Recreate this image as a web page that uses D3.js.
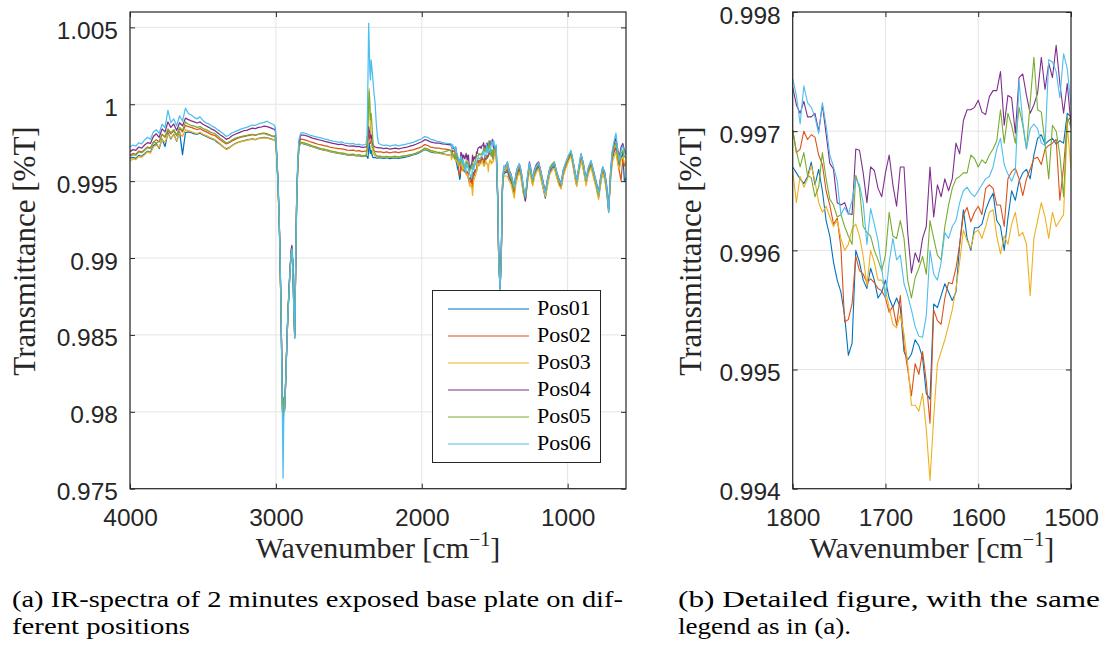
<!DOCTYPE html>
<html>
<head>
<meta charset="utf-8">
<script src="https://cdn.jsdelivr.net/npm/d3@7"></script>
<style>
  body { margin: 0; background: #fff; }
  svg { display: block; }
</style>
</head>
<body>
<script>

var seriesNames = ["Pos01", "Pos02", "Pos03", "Pos04", "Pos05", "Pos06"];
var seriesColors = ["#0072BD", "#D95319", "#EDB120", "#7E2F8E", "#77AC30", "#4DBEEE"];

// wavenumbers 4000 -> 1820 (overview, above the detail window)
var wnHigh = [
    4000,3980,3960,3940,3920,3900,3880,3860,3840,3820,3800,3780,3760,3740,3720,3700,3680,3660,3640,3620,
    3600,3580,3560,3540,3520,3500,3480,3460,3440,3420,3400,3380,3360,3340,3320,3300,3280,3260,3240,3220,
    3200,3180,3160,3140,3120,3100,3080,3060,3040,3020,
    3010,3003,2995,2985,2975,2965,2955,2951,2946,2941,2936,2928,2918,2905,2895,2890,2884,2878,2871,2865,
    2858,2850,2842,2830,
    2810,2790,2770,2750,2730,2710,2690,2670,2650,2630,2610,2590,2570,2550,2530,2510,2490,2470,2450,2430,
    2410,2390,
    2382,2375,2369,2364,2360,2356,2352,2347,2341,2335,2328,2320,2312,2304,2296,
    2280,2260,2240,2220,2200,2180,2160,2140,2120,2100,2080,2060,2040,2020,2000,1980,1960,1940,1920,1900,
    1880,1860,1840,1820
];

// wavenumbers 1800 -> 1500 (detail window, figure b)
var wnDetail = [
    1800,1796,1792,1788,1784,1780,1776,1772,1768,1764,
    1760,1756,1752,1748,1744,1740,1736,1732,1728,1724,
    1720,1716,1712,1708,1704,1700,1696,1692,1688,1684,
    1680,1676,1672,1668,1664,1660,1656,1652,1648,1644,
    1640,1636,1632,1628,1624,1620,1616,1612,1608,1604,
    1600,1596,1592,1588,1584,1580,1576,1572,1568,1564,
    1560,1556,1552,1548,1544,1540,1536,1532,1528,1524,
    1520,1516,1512,1508,1504,1500
];

// wavenumbers 1490 -> 600 (fingerprint part)
var wnLow = [
    1490,1480,1472,1463,1455,1447,1438,1425,1413,1400,
    1388,1376,1366,1355,1343,1331,1318,1304,1290,1276,
    1262,1250,1240,1228,1214,1199,1185,1170,1153,1138,
    1122,1106,1091,1076,1060,1045,1030,1014,998,977,
    962,950,938,924,908,892,874,858,840,822,
    806,788,774,760,746,732,719,706,694,682,
    669,656,645,634,622,611,600
];

// ---- Pos01 ----
var pos01High = [
    0.99650,0.99655,0.99648,0.99668,0.99662,0.99678,0.99695,0.99688,0.99730,0.99745,
    0.99712,0.99775,0.99725,0.99815,0.99775,0.99805,0.99760,0.99820,0.99672,0.99815,
    0.99820,0.99815,0.99808,0.99805,0.99812,0.99800,0.99792,0.99782,0.99775,0.99768,
    0.99752,0.99738,0.99722,0.99710,0.99718,0.99732,0.99745,0.99752,0.99758,0.99762,
    0.99768,0.99772,0.99775,0.99770,0.99778,0.99782,0.99785,0.99782,0.99776,0.99770,
    0.99772,0.99762,0.99672,0.99472,0.99152,0.98672,0.98015,0.97935,0.98070,0.98005,
    0.98105,0.98342,0.98622,0.98882,0.99035,0.99050,0.98955,0.98700,0.98480,0.98890,
    0.99340,0.99590,0.99722,0.99748,
    0.99742,0.99738,0.99730,0.99725,0.99718,0.99712,0.99706,0.99700,0.99698,0.99692,
    0.99688,0.99684,0.99680,0.99678,0.99674,0.99670,0.99668,0.99670,0.99664,0.99666,
    0.99660,0.99662,
    0.99662,0.99660,0.99648,0.99700,0.99750,0.99720,0.99680,0.99700,0.99670,0.99655,
    0.99652,0.99655,0.99652,0.99650,0.99652,
    0.99652,0.99648,0.99652,0.99646,0.99650,0.99652,0.99648,0.99652,0.99655,0.99660,
    0.99665,0.99670,0.99676,0.99684,0.99694,0.99705,0.99700,0.99690,0.99686,0.99684,
    0.99688,0.99680,0.99675,0.99670
];
var pos01Detail = [
    0.99670,0.99665,0.99660,0.99656,0.99662,0.99674,0.99655,0.99668,0.99650,0.99625,
    0.99612,0.99590,0.99575,0.99565,0.99545,0.99512,0.99522,0.99600,0.99590,0.99575,
    0.99568,0.99585,0.99575,0.99560,0.99565,0.99575,0.99560,0.99552,0.99560,0.99552,
    0.99515,0.99508,0.99513,0.99525,0.99520,0.99510,0.99480,0.99475,0.99555,0.99552,
    0.99562,0.99572,0.99565,0.99558,0.99565,0.99605,0.99634,0.99610,0.99600,0.99619,
    0.99619,0.99622,0.99634,0.99642,0.99648,0.99625,0.99620,0.99600,0.99627,0.99650,
    0.99642,0.99658,0.99665,0.99668,0.99660,0.99680,0.99694,0.99697,0.99689,0.99692,
    0.99694,0.99689,0.99692,0.99690,0.99715,0.99712
];
var pos01Low = [
    0.99712,0.99400,0.98965,0.98800,0.99005,0.99440,0.99550,0.99555,0.99565,0.99520,
    0.99500,0.99455,0.99420,0.99500,0.99545,0.99575,0.99525,0.99430,0.99370,0.99495,
    0.99585,0.99530,0.99480,0.99540,0.99575,0.99595,0.99535,0.99465,0.99390,0.99480,
    0.99560,0.99585,0.99595,0.99535,0.99485,0.99455,0.99545,0.99590,0.99630,0.99675,
    0.99600,0.99530,0.99470,0.99560,0.99650,0.99580,0.99485,0.99560,0.99605,0.99535,
    0.99475,0.99395,0.99490,0.99565,0.99525,0.99430,0.99300,0.99520,0.99640,0.99690,
    0.99720,0.99640,0.99600,0.99650,0.99680,0.99500,0.99520
];

// ---- Pos02 ----
var pos02High = [
    0.99668,0.99680,0.99675,0.99695,0.99690,0.99705,0.99722,0.99715,0.99752,0.99770,
    0.99755,0.99805,0.99785,0.99830,0.99808,0.99828,0.99795,0.99842,0.99820,0.99862,
    0.99855,0.99850,0.99842,0.99836,0.99842,0.99830,0.99822,0.99812,0.99802,0.99798,
    0.99782,0.99768,0.99755,0.99742,0.99750,0.99762,0.99772,0.99780,0.99786,0.99790,
    0.99795,0.99798,0.99802,0.99798,0.99805,0.99810,0.99812,0.99808,0.99800,0.99792,
    0.99795,0.99785,0.99680,0.99480,0.99160,0.98680,0.98030,0.97940,0.98075,0.98010,
    0.98110,0.98350,0.98630,0.98890,0.99045,0.99065,0.98965,0.98710,0.98490,0.98900,
    0.99350,0.99600,0.99735,0.99775,
    0.99770,0.99765,0.99758,0.99752,0.99746,0.99740,0.99736,0.99731,0.99728,0.99722,
    0.99718,0.99714,0.99712,0.99710,0.99706,0.99702,0.99700,0.99702,0.99696,0.99698,
    0.99692,0.99695,
    0.99695,0.99705,0.99760,0.99810,0.99800,0.99770,0.99745,0.99760,0.99730,0.99705,
    0.99698,0.99694,0.99692,0.99690,0.99690,
    0.99690,0.99686,0.99690,0.99684,0.99688,0.99690,0.99686,0.99690,0.99692,0.99696,
    0.99700,0.99704,0.99710,0.99716,0.99724,0.99738,0.99732,0.99722,0.99718,0.99715,
    0.99714,0.99710,0.99708,0.99705
];
var pos02Detail = [
    0.99701,0.99682,0.99685,0.99700,0.99693,0.99697,0.99695,0.99680,0.99672,0.99650,
    0.99638,0.99622,0.99627,0.99602,0.99540,0.99542,0.99555,0.99595,0.99583,0.99580,
    0.99573,0.99576,0.99573,0.99568,0.99566,0.99560,0.99548,0.99553,0.99537,0.99562,
    0.99520,0.99500,0.99478,0.99505,0.99496,0.99515,0.99490,0.99455,0.99550,0.99541,
    0.99538,0.99560,0.99573,0.99572,0.99585,0.99605,0.99630,0.99636,0.99624,0.99632,
    0.99637,0.99630,0.99652,0.99655,0.99652,0.99638,0.99638,0.99620,0.99660,0.99666,
    0.99669,0.99660,0.99646,0.99660,0.99668,0.99677,0.99678,0.99672,0.99685,0.99688,
    0.99690,0.99693,0.99642,0.99670,0.99708,0.99712
];
var pos02Low = [
    0.99712,0.99400,0.98970,0.98800,0.99010,0.99450,0.99560,0.99565,0.99580,0.99535,
    0.99515,0.99470,0.99430,0.99515,0.99560,0.99590,0.99540,0.99445,0.99385,0.99505,
    0.99595,0.99540,0.99490,0.99550,0.99585,0.99605,0.99545,0.99480,0.99410,0.99495,
    0.99570,0.99595,0.99605,0.99545,0.99495,0.99465,0.99555,0.99600,0.99640,0.99685,
    0.99610,0.99545,0.99480,0.99570,0.99660,0.99595,0.99495,0.99570,0.99615,0.99545,
    0.99485,0.99400,0.99500,0.99575,0.99535,0.99440,0.99320,0.99530,0.99650,0.99700,
    0.99720,0.99620,0.99560,0.99505,0.99640,0.99600,0.99620
];

// ---- Pos03 ----
var pos03High = [
    0.99630,0.99645,0.99640,0.99660,0.99655,0.99672,0.99690,0.99682,0.99722,0.99735,
    0.99720,0.99770,0.99752,0.99805,0.99780,0.99800,0.99765,0.99812,0.99790,0.99835,
    0.99828,0.99822,0.99815,0.99810,0.99818,0.99805,0.99798,0.99788,0.99780,0.99772,
    0.99758,0.99742,0.99725,0.99705,0.99715,0.99730,0.99742,0.99750,0.99756,0.99760,
    0.99765,0.99770,0.99772,0.99770,0.99776,0.99780,0.99782,0.99780,0.99774,0.99768,
    0.99770,0.99760,0.99670,0.99470,0.99150,0.98670,0.98010,0.97930,0.98080,0.98000,
    0.98100,0.98340,0.98620,0.98880,0.99035,0.99055,0.98955,0.98700,0.98485,0.98890,
    0.99340,0.99590,0.99720,0.99750,
    0.99745,0.99740,0.99732,0.99726,0.99720,0.99714,0.99708,0.99702,0.99700,0.99694,
    0.99690,0.99686,0.99682,0.99680,0.99676,0.99672,0.99670,0.99672,0.99666,0.99668,
    0.99662,0.99665,
    0.99665,0.99700,0.99860,1.00030,1.00100,0.99980,0.99850,0.99780,0.99720,0.99690,
    0.99675,0.99665,0.99662,0.99660,0.99660,
    0.99660,0.99656,0.99660,0.99654,0.99658,0.99660,0.99656,0.99660,0.99662,0.99665,
    0.99670,0.99674,0.99680,0.99688,0.99698,0.99710,0.99705,0.99695,0.99690,0.99686,
    0.99680,0.99676,0.99672,0.99670
];
var pos03Detail = [
    0.99667,0.99640,0.99662,0.99653,0.99660,0.99671,0.99658,0.99640,0.99632,0.99637,
    0.99628,0.99620,0.99625,0.99610,0.99600,0.99605,0.99618,0.99622,0.99612,0.99595,
    0.99570,0.99600,0.99590,0.99575,0.99575,0.99567,0.99552,0.99538,0.99535,0.99546,
    0.99530,0.99505,0.99470,0.99470,0.99465,0.99480,0.99450,0.99407,0.99460,0.99505,
    0.99515,0.99525,0.99537,0.99550,0.99568,0.99590,0.99617,0.99608,0.99602,0.99615,
    0.99617,0.99610,0.99620,0.99632,0.99634,0.99612,0.99597,0.99612,0.99605,0.99622,
    0.99632,0.99612,0.99615,0.99605,0.99562,0.99610,0.99625,0.99640,0.99628,0.99610,
    0.99632,0.99620,0.99625,0.99630,0.99705,0.99668
];
var pos03Low = [
    0.99668,0.99380,0.98960,0.98805,0.99000,0.99430,0.99530,0.99535,0.99530,0.99500,
    0.99480,0.99430,0.99390,0.99480,0.99530,0.99560,0.99510,0.99420,0.99375,0.99480,
    0.99570,0.99515,0.99470,0.99525,0.99560,0.99580,0.99520,0.99460,0.99400,0.99470,
    0.99545,0.99570,0.99585,0.99525,0.99475,0.99450,0.99530,0.99580,0.99620,0.99665,
    0.99590,0.99520,0.99465,0.99545,0.99635,0.99570,0.99470,0.99545,0.99590,0.99520,
    0.99460,0.99380,0.99475,0.99550,0.99510,0.99420,0.99310,0.99500,0.99620,0.99660,
    0.99690,0.99610,0.99580,0.99640,0.99660,0.99620,0.99600
];

// ---- Pos04 ----
var pos04High = [
    0.99692,0.99705,0.99700,0.99722,0.99715,0.99735,0.99750,0.99745,0.99790,0.99808,
    0.99785,0.99840,0.99820,0.99885,0.99850,0.99872,0.99830,0.99880,0.99860,0.99910,
    0.99900,0.99892,0.99885,0.99878,0.99885,0.99870,0.99860,0.99850,0.99838,0.99830,
    0.99815,0.99800,0.99788,0.99772,0.99780,0.99795,0.99805,0.99812,0.99820,0.99828,
    0.99830,0.99838,0.99845,0.99842,0.99850,0.99852,0.99858,0.99855,0.99848,0.99840,
    0.99838,0.99825,0.99690,0.99490,0.99170,0.98690,0.98050,0.97960,0.98085,0.98020,
    0.98120,0.98360,0.98640,0.98900,0.99060,0.99082,0.98975,0.98720,0.98500,0.98910,
    0.99360,0.99615,0.99755,0.99800,
    0.99800,0.99795,0.99788,0.99780,0.99775,0.99770,0.99766,0.99760,0.99755,0.99750,
    0.99746,0.99742,0.99738,0.99740,0.99734,0.99730,0.99728,0.99730,0.99724,0.99726,
    0.99720,0.99722,
    0.99722,0.99730,0.99790,0.99855,0.99830,0.99810,0.99780,0.99800,0.99760,0.99735,
    0.99728,0.99722,0.99720,0.99718,0.99716,
    0.99716,0.99712,0.99714,0.99708,0.99712,0.99715,0.99710,0.99714,0.99718,0.99722,
    0.99728,0.99733,0.99740,0.99748,0.99756,0.99770,0.99765,0.99755,0.99750,0.99748,
    0.99747,0.99742,0.99740,0.99738
];
var pos04Detail = [
    0.99737,0.99722,0.99715,0.99725,0.99712,0.99712,0.99715,0.99700,0.99722,0.99698,
    0.99673,0.99668,0.99640,0.99638,0.99640,0.99631,0.99630,0.99685,0.99684,0.99665,
    0.99640,0.99670,0.99667,0.99652,0.99645,0.99665,0.99680,0.99655,0.99637,0.99670,
    0.99670,0.99615,0.99581,0.99598,0.99590,0.99610,0.99620,0.99670,0.99628,0.99655,
    0.99645,0.99660,0.99650,0.99660,0.99690,0.99681,0.99709,0.99718,0.99718,0.99720,
    0.99726,0.99716,0.99714,0.99729,0.99734,0.99734,0.99750,0.99705,0.99730,0.99728,
    0.99698,0.99745,0.99748,0.99730,0.99715,0.99722,0.99732,0.99762,0.99735,0.99757,
    0.99745,0.99772,0.99740,0.99715,0.99740,0.99705
];
var pos04Low = [
    0.99728,0.99420,0.98990,0.98810,0.99030,0.99470,0.99590,0.99600,0.99622,0.99570,
    0.99545,0.99495,0.99470,0.99545,0.99590,0.99610,0.99565,0.99460,0.99375,0.99520,
    0.99625,0.99570,0.99505,0.99575,0.99610,0.99625,0.99570,0.99505,0.99430,0.99515,
    0.99585,0.99605,0.99615,0.99565,0.99515,0.99485,0.99575,0.99615,0.99655,0.99690,
    0.99625,0.99565,0.99505,0.99585,0.99672,0.99615,0.99515,0.99585,0.99630,0.99565,
    0.99505,0.99430,0.99525,0.99590,0.99560,0.99470,0.99320,0.99555,0.99690,0.99740,
    0.99780,0.99700,0.99660,0.99720,0.99745,0.99700,0.99680
];

// ---- Pos05 ----
var pos05High = [
    0.99660,0.99672,0.99668,0.99690,0.99685,0.99700,0.99718,0.99712,0.99755,0.99748,
    0.99760,0.99800,0.99790,0.99840,0.99815,0.99835,0.99800,0.99850,0.99830,0.99885,
    0.99870,0.99862,0.99858,0.99850,0.99855,0.99842,0.99835,0.99825,0.99815,0.99810,
    0.99795,0.99778,0.99765,0.99748,0.99755,0.99768,0.99778,0.99785,0.99790,0.99795,
    0.99798,0.99802,0.99805,0.99800,0.99806,0.99808,0.99810,0.99802,0.99798,0.99790,
    0.99792,0.99780,0.99675,0.99475,0.99155,0.98675,0.98020,0.97950,0.98095,0.98015,
    0.98115,0.98345,0.98625,0.98885,0.99040,0.99060,0.98960,0.98705,0.98488,0.98895,
    0.99345,0.99595,0.99725,0.99752,
    0.99750,0.99744,0.99738,0.99730,0.99725,0.99718,0.99712,0.99708,0.99704,0.99698,
    0.99694,0.99690,0.99686,0.99684,0.99680,0.99676,0.99674,0.99676,0.99670,0.99672,
    0.99666,0.99668,
    0.99668,0.99700,0.99850,1.00000,1.00082,0.99990,0.99900,0.99940,0.99860,0.99760,
    0.99700,0.99680,0.99668,0.99665,0.99663,
    0.99662,0.99658,0.99662,0.99656,0.99660,0.99662,0.99658,0.99662,0.99665,0.99668,
    0.99672,0.99676,0.99682,0.99690,0.99700,0.99715,0.99710,0.99700,0.99695,0.99690,
    0.99682,0.99688,0.99692,0.99698
];
var pos05Detail = [
    0.99701,0.99683,0.99670,0.99682,0.99663,0.99661,0.99645,0.99653,0.99682,0.99660,
    0.99643,0.99638,0.99628,0.99630,0.99620,0.99612,0.99605,0.99663,0.99652,0.99620,
    0.99615,0.99612,0.99600,0.99592,0.99583,0.99596,0.99632,0.99612,0.99610,0.99625,
    0.99610,0.99575,0.99560,0.99577,0.99585,0.99595,0.99580,0.99625,0.99610,0.99596,
    0.99592,0.99620,0.99638,0.99652,0.99660,0.99662,0.99665,0.99665,0.99680,0.99677,
    0.99670,0.99676,0.99673,0.99680,0.99685,0.99692,0.99718,0.99690,0.99715,0.99705,
    0.99690,0.99720,0.99705,0.99685,0.99724,0.99762,0.99718,0.99716,0.99690,0.99660,
    0.99705,0.99700,0.99680,0.99645,0.99712,0.99703
];
var pos05Low = [
    0.99725,0.99410,0.98975,0.98800,0.99015,0.99460,0.99575,0.99580,0.99600,0.99550,
    0.99530,0.99480,0.99445,0.99530,0.99575,0.99600,0.99550,0.99455,0.99395,0.99515,
    0.99605,0.99550,0.99500,0.99560,0.99595,0.99615,0.99555,0.99490,0.99425,0.99505,
    0.99590,0.99612,0.99627,0.99555,0.99505,0.99475,0.99565,0.99610,0.99650,0.99695,
    0.99620,0.99550,0.99490,0.99580,0.99675,0.99605,0.99505,0.99580,0.99625,0.99550,
    0.99490,0.99410,0.99510,0.99585,0.99545,0.99450,0.99330,0.99540,0.99670,0.99720,
    0.99750,0.99660,0.99620,0.99680,0.99700,0.99660,0.99650
];

// ---- Pos06 ----
var pos06High = [
    0.99722,0.99735,0.99728,0.99750,0.99742,0.99768,0.99785,0.99772,0.99820,0.99835,
    0.99810,0.99870,0.99848,0.99960,0.99880,0.99905,0.99860,0.99925,0.99890,0.99975,
    0.99940,0.99930,0.99915,0.99905,0.99918,0.99895,0.99880,0.99872,0.99858,0.99850,
    0.99835,0.99822,0.99808,0.99790,0.99800,0.99815,0.99822,0.99830,0.99838,0.99845,
    0.99850,0.99858,0.99865,0.99862,0.99872,0.99878,0.99882,0.99890,0.99878,0.99870,
    0.99862,0.99845,0.99700,0.99500,0.99180,0.98700,0.97950,0.97568,0.97950,0.98050,
    0.98100,0.98350,0.98620,0.98880,0.99030,0.99060,0.98960,0.98700,0.98479,0.98900,
    0.99370,0.99630,0.99770,0.99812,
    0.99815,0.99808,0.99800,0.99795,0.99790,0.99785,0.99782,0.99775,0.99772,0.99765,
    0.99760,0.99758,0.99752,0.99755,0.99748,0.99745,0.99742,0.99745,0.99738,0.99740,
    0.99735,0.99738,
    0.99740,0.99800,1.00150,1.00526,1.00380,1.00220,1.00158,1.00288,1.00230,1.00160,
    1.00080,1.00008,0.99880,0.99790,0.99745,
    0.99738,0.99732,0.99735,0.99728,0.99732,0.99736,0.99730,0.99734,0.99738,0.99742,
    0.99748,0.99752,0.99760,0.99768,0.99776,0.99790,0.99785,0.99772,0.99768,0.99760,
    0.99757,0.99752,0.99748,0.99745
];
var pos06Detail = [
    0.99744,0.99730,0.99706,0.99738,0.99724,0.99720,0.99712,0.99698,0.99724,0.99705,
    0.99680,0.99670,0.99658,0.99630,0.99636,0.99630,0.99642,0.99660,0.99655,0.99640,
    0.99605,0.99635,0.99622,0.99608,0.99585,0.99560,0.99590,0.99610,0.99592,0.99596,
    0.99572,0.99562,0.99550,0.99536,0.99528,0.99527,0.99545,0.99600,0.99580,0.99575,
    0.99590,0.99615,0.99610,0.99620,0.99625,0.99640,0.99650,0.99653,0.99648,0.99645,
    0.99650,0.99655,0.99660,0.99662,0.99670,0.99685,0.99694,0.99672,0.99664,0.99658,
    0.99666,0.99742,0.99708,0.99685,0.99702,0.99706,0.99702,0.99690,0.99688,0.99760,
    0.99758,0.99750,0.99728,0.99765,0.99752,0.99722
];
var pos06Low = [
    0.99735,0.99430,0.98980,0.98795,0.99020,0.99480,0.99600,0.99590,0.99627,0.99560,
    0.99540,0.99500,0.99462,0.99540,0.99585,0.99615,0.99560,0.99470,0.99400,0.99530,
    0.99618,0.99560,0.99510,0.99570,0.99600,0.99620,0.99565,0.99500,0.99420,0.99510,
    0.99580,0.99600,0.99620,0.99560,0.99510,0.99480,0.99570,0.99620,0.99660,0.99700,
    0.99630,0.99560,0.99500,0.99590,0.99680,0.99610,0.99510,0.99590,0.99635,0.99560,
    0.99500,0.99420,0.99520,0.99595,0.99555,0.99460,0.99295,0.99560,0.99700,0.99760,
    0.99812,0.99690,0.99640,0.99700,0.99730,0.99690,0.99670
];

// ticks
var xTicksA = [4000, 3000, 2000, 1000];
var xTickLabelsA = ["4000", "3000", "2000", "1000"];
var yTicksA = [0.975, 0.98, 0.985, 0.99, 0.995, 1, 1.005];
var yTickLabelsA = ["0.975", "0.98", "0.985", "0.99", "0.995", "1", "1.005"];
var xTicksB = [1800, 1700, 1600, 1500];
var xTickLabelsB = ["1800", "1700", "1600", "1500"];
var yTicksB = [0.994, 0.995, 0.996, 0.997, 0.998];
var yTickLabelsB = ["0.994", "0.995", "0.996", "0.997", "0.998"];

var highData = [pos01High, pos02High, pos03High, pos04High, pos05High, pos06High];
var detailData = [pos01Detail, pos02Detail, pos03Detail, pos04Detail, pos05Detail, pos06Detail];
var lowData = [pos01Low, pos02Low, pos03Low, pos04Low, pos05Low, pos06Low];

function zipSeries(wns, vals) {
    var out = [];
    for (var i = 0; i < wns.length && i < vals.length; i++) {
        out.push({ wn: wns[i], t: vals[i] });
    }
    return out;
}

var fullSeries = seriesNames.map(function(name, i) {
    return zipSeries(wnHigh, highData[i]).concat(zipSeries(wnDetail, detailData[i]), zipSeries(wnLow, lowData[i]));
});
var detailSeries = seriesNames.map(function(name, i) {
    return zipSeries(wnDetail, detailData[i]);
});

var W = 1105, H = 648;
var axisColor = "#262626";
var gridColor = "#e4e4e4";
var tickFont = "'Liberation Sans', Arial, Helvetica, sans-serif";
var serifFont = "'Liberation Serif', 'Times New Roman', serif";

var svg = d3.select("body").append("svg")
    .attr("width", W)
    .attr("height", H);

function drawPanel(p) {
    var x = d3.scaleLinear().domain(p.xDomain).range([p.left, p.right]);
    var y = d3.scaleLinear().domain(p.yDomain).range([p.bottom, p.top]);
    var w = p.right - p.left, h = p.bottom - p.top;

    var clipId = "clip-" + p.id;
    svg.append("clipPath").attr("id", clipId)
        .append("rect")
        .attr("x", p.left).attr("y", p.top)
        .attr("width", w).attr("height", h);

    // grid
    var grid = svg.append("g").attr("class", "grid");
    grid.selectAll(".vgrid").data(p.xTicks).enter().append("line")
        .attr("x1", function(d) { return x(d); })
        .attr("x2", function(d) { return x(d); })
        .attr("y1", p.top).attr("y2", p.bottom)
        .attr("stroke", gridColor).attr("stroke-width", 1);
    grid.selectAll(".hgrid").data(p.yTicks).enter().append("line")
        .attr("y1", function(d) { return y(d); })
        .attr("y2", function(d) { return y(d); })
        .attr("x1", p.left).attr("x2", p.right)
        .attr("stroke", gridColor).attr("stroke-width", 1);

    // spectra, Pos01 first so Pos06 ends on top
    var line = d3.line()
        .x(function(d) { return x(d.wn); })
        .y(function(d) { return y(d.t); });

    svg.append("g").attr("clip-path", "url(#" + clipId + ")")
        .selectAll("path").data(p.series).enter().append("path")
        .attr("d", line)
        .attr("fill", "none")
        .attr("stroke", function(d, i) { return seriesColors[i]; })
        .attr("stroke-width", p.lineWidth)
        .attr("stroke-linejoin", "round");

    // axes with ticks pointing inwards
    var xAxis = svg.append("g")
        .attr("transform", "translate(0," + p.bottom + ")")
        .call(d3.axisBottom(x).tickValues(p.xTicks).tickSizeInner(-5).tickSizeOuter(0).tickPadding(20)
            .tickFormat(function(d, i) { return p.xLabels[i]; }));
    var yAxis = svg.append("g")
        .attr("transform", "translate(" + p.left + ",0)")
        .call(d3.axisLeft(y).tickValues(p.yTicks).tickSizeInner(-5).tickSizeOuter(0).tickPadding(12)
            .tickFormat(function(d, i) { return p.yLabels[i]; }));
    var xTop = svg.append("g")
        .attr("transform", "translate(0," + p.top + ")")
        .call(d3.axisTop(x).tickValues(p.xTicks).tickSizeInner(-5).tickSizeOuter(0).tickFormat(""));
    var yRight = svg.append("g")
        .attr("transform", "translate(" + p.right + ",0)")
        .call(d3.axisRight(y).tickValues(p.yTicks).tickSizeInner(-5).tickSizeOuter(0).tickFormat(""));

    [xAxis, yAxis, xTop, yRight].forEach(function(g) {
        g.select(".domain").remove();
        g.selectAll(".tick line").attr("stroke", axisColor);
        g.selectAll(".tick text")
            .attr("fill", axisColor)
            .attr("font-family", tickFont)
            .attr("font-size", 24.5);
    });
    // MATLAB puts the y labels a touch below the tick
    yAxis.selectAll(".tick text").attr("dy", "0.45em");

    svg.append("rect")
        .attr("x", p.left).attr("y", p.top)
        .attr("width", w).attr("height", h)
        .attr("fill", "none")
        .attr("stroke", axisColor)
        .attr("stroke-width", 1.2);

    // axis titles
    var xl = svg.append("text")
        .attr("x", (p.left + p.right) / 2)
        .attr("y", 558)
        .attr("text-anchor", "middle")
        .attr("font-family", serifFont)
        .attr("font-size", 30)
        .attr("fill", axisColor);
    xl.append("tspan").text("Wavenumber [cm");
    xl.append("tspan").attr("dy", -12).attr("font-size", 20).text("\u22121");
    xl.append("tspan").attr("dy", 12).text("]");

    svg.append("text")
        .attr("transform", "translate(" + p.yLabelX + ",251) rotate(-90)")
        .attr("text-anchor", "middle")
        .attr("font-family", serifFont)
        .attr("font-size", 31)
        .attr("fill", axisColor)
        .text("Transmittance [%T]");

    return { x: x, y: y };
}

drawPanel({
    id: "a", left: 130, right: 626, top: 12, bottom: 488.7,
    xDomain: [4000, 600], yDomain: [0.975, 1.006],
    xTicks: xTicksA, xLabels: xTickLabelsA, yTicks: yTicksA, yLabels: yTickLabelsA,
    series: fullSeries, yLabelX: 35, lineWidth: 1.25
});

drawPanel({
    id: "b", left: 792.7, right: 1071, top: 12, bottom: 488.7,
    xDomain: [1800, 1500], yDomain: [0.994, 0.998],
    xTicks: xTicksB, xLabels: xTickLabelsB, yTicks: yTicksB, yLabels: yTickLabelsB,
    series: detailSeries, yLabelX: 701, lineWidth: 1.1
});

// legend (panel a)
var legend = svg.append("g");
legend.append("rect")
    .attr("x", 432.5).attr("y", 290.5)
    .attr("width", 168).attr("height", 172)
    .attr("fill", "#fff")
    .attr("stroke", axisColor)
    .attr("stroke-width", 1);
seriesNames.forEach(function(name, i) {
    var yy = 309 + i * 27;
    legend.append("line")
        .attr("x1", 448).attr("x2", 529)
        .attr("y1", yy).attr("y2", yy)
        .attr("stroke", seriesColors[i])
        .attr("stroke-width", 1.1);
    legend.append("text")
        .attr("x", 537).attr("y", yy + 6)
        .attr("font-family", serifFont)
        .attr("font-size", 22)
        .attr("fill", "#000")
        .text(name);
});

// captions
var captions = [
    { x: 12, y: 607, len: 611, text: "(a) IR-spectra of 2 minutes exposed base plate on dif-" },
    { x: 12, y: 634, len: 178, text: "ferent positions" },
    { x: 678, y: 607, len: 422, text: "(b) Detailed figure, with the same" },
    { x: 678, y: 634, len: 173, text: "legend as in (a)." }
];
svg.selectAll(".caption").data(captions).enter().append("text")
    .attr("class", "caption")
    .attr("x", function(d) { return d.x; })
    .attr("y", function(d) { return d.y; })
    .attr("textLength", function(d) { return d.len; })
    .attr("lengthAdjust", "spacingAndGlyphs")
    .attr("font-family", serifFont)
    .attr("font-size", 23)
    .attr("fill", "#000")
    .text(function(d) { return d.text; });

</script>
</body>
</html>
